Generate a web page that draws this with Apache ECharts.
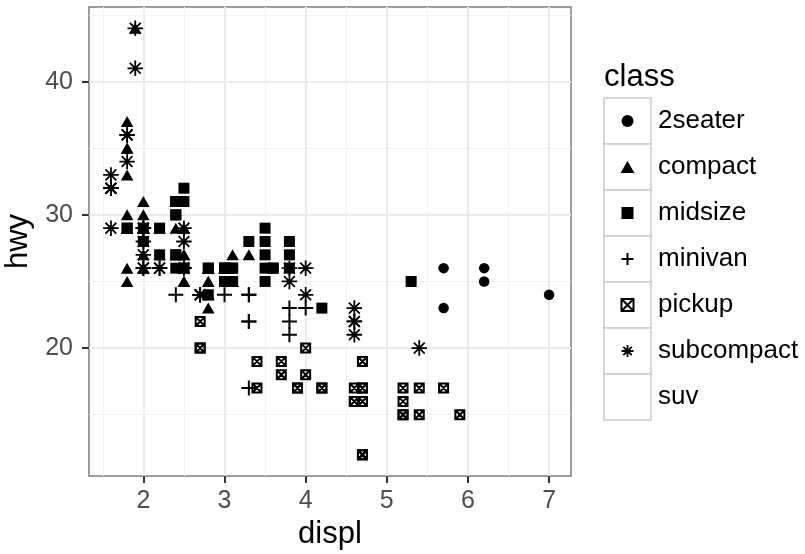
<!DOCTYPE html>
<html>
<head>
<meta charset="utf-8">
<script src="https://cdn.jsdelivr.net/npm/echarts@6/dist/echarts.min.js"></script>
<style>
html,body{margin:0;padding:0;background:#fff;}
#chart{width:805px;height:554px;}
</style>
</head>
<body>
<div id="chart"></div>
<script>
// ---- data: [displ, hwy] by class (mpg) ----
const classes = ['2seater','compact','midsize','minivan','pickup','subcompact','suv'];
const twoSeater = [[5.7,26],[5.7,23],[6.2,26],[6.2,25],[7.0,24]];
const compact = [
  [1.8,29],[1.8,29],[2.0,31],[2.0,30],[2.8,26],[2.8,26],[3.1,27],
  [1.8,26],[1.8,25],[2.0,28],[2.0,27],[2.8,25],[2.8,25],[3.1,25],[3.1,25],
  [2.4,29],[2.4,27],
  [2.5,25],[2.5,27],[2.5,25],[2.5,27],
  [2.2,27],[2.2,29],[2.4,31],[2.4,31],[3.0,26],[3.0,26],[3.3,27],
  [1.8,30],[1.8,33],[1.8,35],[1.8,37],[1.8,35],
  [2.0,29],[2.0,26],[2.0,29],[2.0,29],[2.8,24],
  [1.9,44],[2.0,29],[2.0,26],[2.0,29],[2.0,29],[2.5,29],[2.5,29],[2.8,23],[2.8,24]
];
const midsize = [
  [2.8,24],[3.1,25],[4.2,23],
  [2.4,27],[2.4,30],[3.1,26],[3.5,29],[3.6,26],
  [2.4,26],[2.4,27],[2.4,30],[2.4,31],[2.5,26],[2.5,26],[3.3,28],
  [2.5,31],[2.5,32],[3.5,27],[3.5,26],
  [3.0,26],[3.0,25],[3.5,25],
  [3.1,26],[3.8,26],[3.8,27],[3.8,28],[5.3,25],
  [2.2,29],[2.2,27],[2.4,31],[2.4,31],[3.0,26],[3.0,26],[3.5,28],
  [1.8,29],[1.8,29],[2.0,28],[2.0,29],[2.8,26],[2.8,26],[3.6,26]
];
const minivan = [[2.4,24],[3.0,24],[3.3,22],[3.3,22],[3.3,24],[3.3,24],[3.3,17],[3.8,22],[3.8,21],[3.8,23],[4.0,23]];
const pickup = [
  [3.7,19],[3.7,18],[3.9,17],[3.9,17],[4.7,19],[4.7,19],[4.7,12],[5.2,17],[5.2,15],
  [4.7,16],[4.7,12],[4.7,17],[4.7,17],[4.7,16],[4.7,12],[5.2,15],[5.2,16],[5.7,17],[5.9,15],
  [4.2,17],[4.2,17],[4.6,16],[4.6,16],[4.6,17],[5.4,15],[5.4,17],
  [2.7,20],[2.7,20],[2.7,22],[3.4,17],[3.4,19],[4.0,18],[4.0,20]
];
const subcompact = [
  [3.8,26],[3.8,25],[4.0,26],[4.0,24],[4.6,21],[4.6,22],[4.6,23],[4.6,22],[5.4,20],
  [1.6,33],[1.6,32],[1.6,32],[1.6,29],[1.6,32],[1.8,34],[1.8,36],[1.8,36],[2.0,29],
  [2.0,26],[2.0,29],[2.0,28],[2.0,27],[2.7,24],[2.7,24],[2.7,24],
  [2.2,26],[2.2,26],[2.5,26],[2.5,26],
  [1.9,44],[1.9,41],[2.0,29],[2.0,26],[2.5,28],[2.5,29]
];
// suv has no shape in the reference (not drawn)
const suv = [
  [5.3,20],[5.3,15],[5.3,20],[5.7,17],[6.0,17],[5.3,19],[5.3,14],[5.7,15],[6.5,17],
  [3.9,17],[4.7,17],[4.7,12],[4.7,17],[5.2,16],[5.7,18],[5.9,15],
  [4.6,17],[5.4,17],[5.4,18],[4.0,17],[4.0,19],[4.0,17],[4.0,19],[4.6,19],[5.0,17],
  [3.0,22],[3.7,19],[4.0,20],[4.7,17],[4.7,12],[4.7,19],[5.7,18],[6.1,14],
  [4.0,15],[4.2,18],[4.4,18],[4.6,15],[5.4,17],[5.4,16],[5.4,18],
  [4.0,17],[4.0,19],[4.6,19],[5.0,17],[3.3,17],[3.3,17],[4.0,20],[5.6,18],
  [2.5,25],[2.5,24],[2.5,27],[2.5,25],[2.5,26],[2.5,23],
  [2.7,20],[2.7,20],[3.4,19],[3.4,17],[4.0,20],[4.7,19],[4.7,17],[5.7,18]
];
const xMajor = [2,3,4,5,6,7];
const xMinor = [1.5,2.5,3.5,4.5,5.5,6.5];
const yMajor = [20,30,40];
const yMinor = [15,25,35,45];

// ---- shapes ----
const SYM = {
  '2seater': {symbol:'circle', size:10.5, fill:'#000', bw:0},
  'compact': {symbol:'path://M5,0L10,8.66L0,8.66Z', size:[12.5,11], fill:'#000', bw:0},
  'midsize': {symbol:'path://M0,0L10,0L10,10L0,10Z', size:11, fill:'#000', bw:0},
  'minivan': {symbol:'path://M0,5L10,5M5,0L5,10', size:15, fill:'none', bw:2},
  'pickup': {symbol:'path://M0,0L10,0L10,10L0,10ZM0,0L10,10M10,0L0,10', size:9, fill:'none', bw:2},
  'subcompact': {symbol:'path://M5,0L5,10M0,5L10,5M1.5,1.5L8.5,8.5M8.5,1.5L1.5,8.5', size:15.5, fill:'none', bw:1.8},
  'suv': {symbol:'none', size:0, fill:'none', bw:0}
};
const seriesData = {'2seater':twoSeater, compact, midsize, minivan, pickup, subcompact, suv};

const chart = echarts.init(document.getElementById('chart'), null, {renderer:'canvas'});
const FONT = 'Liberation Sans';

const grid = {left:89, right:234, top:7, bottom:78};

const series = classes.map(c => ({
  name: c,
  type: 'scatter',
  data: seriesData[c],
  symbol: SYM[c].symbol,
  symbolSize: SYM[c].size,
  itemStyle: {color: SYM[c].fill, borderColor: '#000', borderWidth: SYM[c].bw, opacity: 1},
  emphasis: {disabled: true},
  silent: true,
  z: 3
}));

const legendData = classes.map(c => ({
  name: c,
  icon: c === 'suv' ? 'rect' : SYM[c].symbol,
  itemStyle: c === 'suv'
    ? {color: 'rgba(0,0,0,0)', borderWidth: 0}
    : {color: SYM[c].fill, borderColor: '#000', borderWidth: SYM[c].bw}
}));

const keyBoxes = classes.map((c, i) => ({
  type: 'rect',
  shape: {x: 604, y: 98 + i * 46, width: 47, height: 46},
  style: {fill: '#fff', stroke: '#cccccc', lineWidth: 1.5},
  z: 0
}));

const option = {
  animation: false,
  backgroundColor: '#fff',
  grid: Object.assign({show: true, backgroundColor: '#fff', borderColor: '#7f7f7f', borderWidth: 1.5, containLabel: false, outerBoundsMode: 'none'}, grid),
  xAxis: [
    {
      type: 'value', min: 1.33, max: 7.27, gridIndex: 0,
      name: 'displ', nameLocation: 'middle', nameGap: 41,
      nameTextStyle: {fontFamily: FONT, fontSize: 31, color: '#000'},
      axisLine: {show: false},
      axisTick: {show: true, length: 7, inside: false, customValues: xMajor, lineStyle: {color: '#333', width: 2}},
      axisLabel: {show: true, customValues: xMajor, margin: 13, fontFamily: FONT, fontSize: 25, color: '#4d4d4d'},
      splitLine: {show: true, lineStyle: {color: '#ebebeb', width: 2}},
      z: 1
    },
    {
      type: 'value', min: 1.33, max: 7.27, gridIndex: 0, position: 'bottom',
      axisLine: {show: false},
      axisTick: {show: false, customValues: xMinor},
      axisLabel: {show: false, customValues: xMinor},
      splitLine: {show: true, lineStyle: {color: '#f3f3f3', width: 1}},
      z: 0
    }
  ],
  yAxis: [
    {
      type: 'value', min: 10.4, max: 45.6, gridIndex: 0,
      name: 'hwy', nameLocation: 'middle', nameGap: 48,
      nameTextStyle: {fontFamily: FONT, fontSize: 31, color: '#000'},
      axisLine: {show: false},
      axisTick: {show: true, length: 7, inside: false, customValues: yMajor, lineStyle: {color: '#333', width: 2}},
      axisLabel: {show: true, customValues: yMajor, margin: 16, fontFamily: FONT, fontSize: 25, color: '#4d4d4d'},
      splitLine: {show: true, lineStyle: {color: '#ebebeb', width: 2}},
      z: 1
    },
    {
      type: 'value', min: 10.4, max: 45.6, gridIndex: 0, position: 'left',
      axisLine: {show: false},
      axisTick: {show: false, customValues: yMinor},
      axisLabel: {show: false, customValues: yMinor},
      splitLine: {show: true, lineStyle: {color: '#f3f3f3', width: 1}},
      z: 0
    }
  ],
  legend: {
    orient: 'vertical',
    left: 602, top: 98,
    padding: 0,
    itemGap: 0,
    itemWidth: 51, itemHeight: 12,
    symbolKeepAspect: true,
    selectedMode: false,
    textStyle: {fontFamily: FONT, fontSize: 26, color: '#000', lineHeight: 46},
    data: legendData
  },
  graphic: [
    {
      type: 'text', left: 604, top: 62, z: 5,
      style: {text: 'class', font: '31px "Liberation Sans"', fill: '#000'}
    }
  ].concat(keyBoxes),
  series: series
};
chart.setOption(option);
</script>
</body>
</html>
